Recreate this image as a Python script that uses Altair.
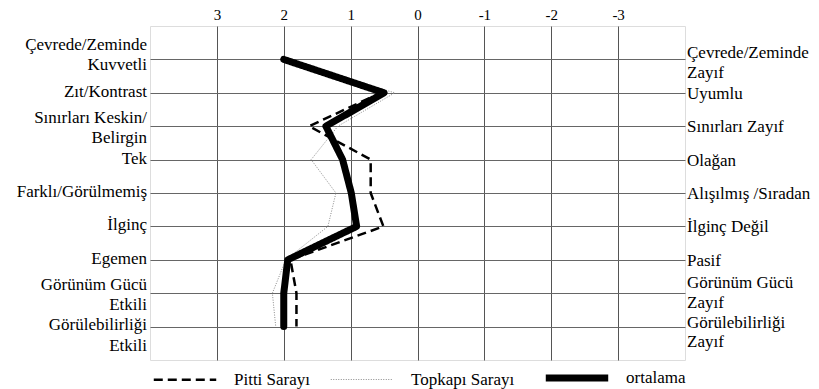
import altair as alt
import pandas as pd

rows = [1, 2, 3, 4, 5, 6, 7, 8, 9]
left_labels = ["Çevrede/Zeminde\nKuvvetli", "Zıt/Kontrast", "Sınırları Keskin/\nBelirgin", "Tek",
               "Farklı/Görülmemiş", "İlginç", "Egemen", "Görünüm Gücü\nEtkili", "Görülebilirliği\nEtkili"]
right_labels = ["Çevrede/Zeminde\nZayıf", "Uyumlu", "Sınırları Zayıf", "Olağan",
                "Alışılmış /Sıradan", "İlginç Değil", "Pasif", "Görünüm Gücü\nZayıf", "Görülebilirliği\nZayıf"]
pitti = [1.95, 0.55, 1.62, 0.70, 0.70, 0.51, 1.90, 1.81, 1.81]
topkapi = [2.05, 0.34, 1.19, 1.59, 1.22, 1.34, 1.97, 2.17, 2.12]
ortalama = [2.0, 0.50, 1.37, 1.12, 0.99, 0.91, 1.94, 2.0, 2.0]
x_ticks = [3, 2, 1, 0, -1, -2, -3]
series_names = ["Pitti Sarayı", "Topkapı Sarayı", "ortalama"]

recs = []
for name, vals in zip(series_names, [pitti, topkapi, ortalama]):
    for r, v in zip(rows, vals):
        recs.append({"series": name, "row": r, "value": v})
df = pd.DataFrame(recs)


def split_labels(labels):
    out = []
    for r, t in zip(rows, labels):
        parts = t.split("\n")
        if len(parts) == 2:
            out.append({"row": r, "l0": "", "l1": parts[0], "l2": parts[1]})
        else:
            out.append({"row": r, "l0": t, "l1": "", "l2": ""})
    return pd.DataFrame(out)


left_df = split_labels(left_labels)
right_df = split_labels(right_labels)

FONT = "Liberation Serif"
FS = 17
W, H = 535, 334

xscale = alt.Scale(domain=[4, -4], nice=False, zero=False)
yscale = alt.Scale(domain=[0, 10], reverse=True, nice=False, zero=False)

x_enc = alt.X("value:Q", scale=xscale,
              axis=alt.Axis(orient="top", values=x_ticks, grid=True, ticks=False, domain=False,
                            labelExpr="'' + datum.value", labelFont=FONT, labelFontSize=15,
                            labelColor="black", labelPadding=4, title=None,
                            gridColor="#555555", gridOpacity=1, gridWidth=1))
y_enc = alt.Y("row:Q", scale=yscale,
              axis=alt.Axis(values=rows, grid=True, ticks=False, labels=False, domain=False, title=None,
                            gridColor="#666666", gridOpacity=1, gridWidth=1))

legend = alt.Legend(title=None, orient="none", legendX=0, legendY=317, direction="horizontal",
                    columns=3, symbolType="stroke", symbolSize=3900, labelFont=FONT,
                    labelFontSize=FS, labelColor="black", columnPadding=16, labelOffset=14,
                    symbolStrokeColor="black")

enc = dict(
    x=x_enc,
    y=y_enc,
    color=alt.Color("series:N", scale=alt.Scale(domain=series_names, range=["black", "#8a8a8a", "black"]),
                    legend=legend),
    strokeDash=alt.StrokeDash("series:N", scale=alt.Scale(type="ordinal", domain=series_names,
                                                          range=[[9, 5], [1, 1.5], [1, 0]]), legend=legend),
    strokeWidth=alt.StrokeWidth("series:N", scale=alt.Scale(type="ordinal", domain=series_names,
                                                            range=[2.5, 1, 7]), legend=legend),
    order="row:Q",
)

layers = []
for name in series_names:
    layers.append(
        alt.Chart(df).transform_filter(alt.datum.series == name)
        .mark_line(strokeCap="round" if name == "ortalama" else "butt", strokeJoin="round")
        .encode(**enc)
    )


def text_layer(data, align, xpx, field, dy, row_set):
    return (
        alt.Chart(data)
        .transform_filter(alt.FieldOneOfPredicate(field="row", oneOf=row_set))
        .mark_text(align=align, baseline="middle", font=FONT, fontSize=FS, color="black", dy=dy)
        .encode(x=alt.value(xpx), y=alt.Y("row:Q", scale=yscale), text=f"{field}:N")
    )


# label line offsets (style): single-line labels, and two-line groups
texts = [
    text_layer(left_df, "right", -3, "l0", -1, rows),
    text_layer(left_df, "right", -3, "l1", -14, [1]),
    text_layer(left_df, "right", -3, "l2", 6, [1]),
    text_layer(left_df, "right", -3, "l1", -8, [3, 8]),
    text_layer(left_df, "right", -3, "l2", 12, [3, 8]),
    text_layer(left_df, "right", -3, "l1", -2, [9]),
    text_layer(left_df, "right", -3, "l2", 19, [9]),
    text_layer(right_df, "left", W + 2, "l0", 1, rows),
    text_layer(right_df, "left", W + 2, "l1", -6, [1]),
    text_layer(right_df, "left", W + 2, "l2", 14, [1]),
    text_layer(right_df, "left", W + 2, "l1", -10, [8]),
    text_layer(right_df, "left", W + 2, "l2", 10, [8]),
    text_layer(right_df, "left", W + 2, "l1", -4, [9]),
    text_layer(right_df, "left", W + 2, "l2", 15, [9]),
]

chart = alt.layer(*layers, *texts).properties(
    width=W, height=H,
    autosize=alt.AutoSizeParams(type="none"),
    padding={"left": 142, "top": 18, "right": 126, "bottom": 29},
).configure_view(stroke="black", strokeWidth=1).configure(background="white")

chart.save("out.html", embed_options={"renderer": "svg", "actions": False})
